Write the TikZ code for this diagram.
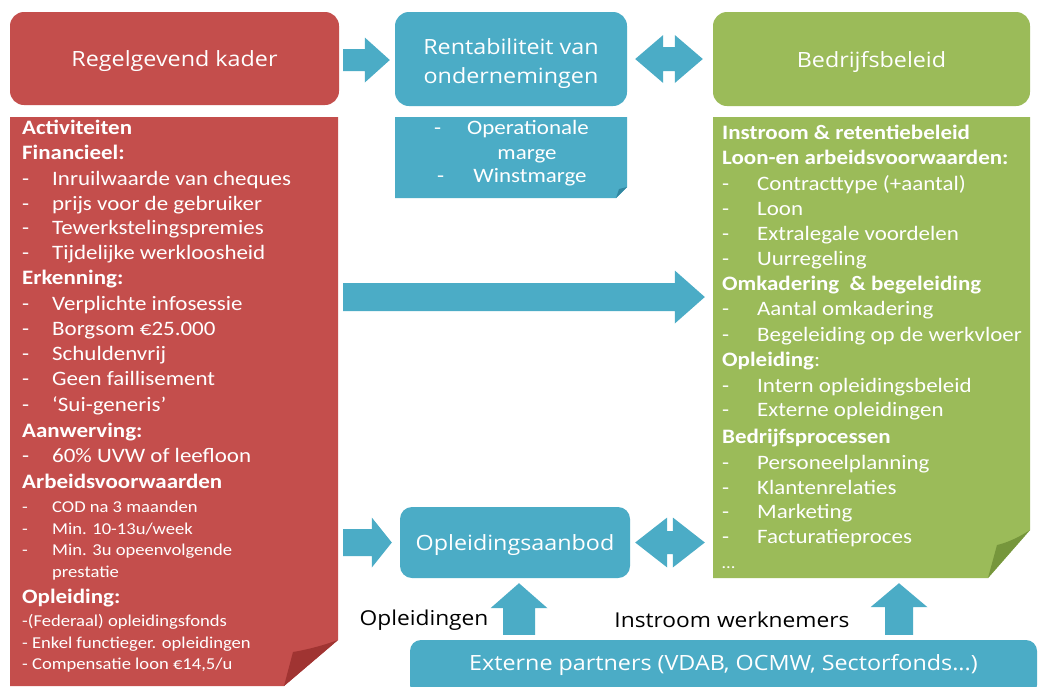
\documentclass[tikz,border=0pt]{standalone}
\usepackage{fontspec}
\setmainfont{Carlito}[FakeStretch=1.12]
\newfontfamily\headfont{Open Sans}[FakeStretch=1.11]
\usetikzlibrary{calc}

\definecolor{redc}{RGB}{196,78,76}
\definecolor{redfold}{RGB}{160,52,50}
\definecolor{bluec}{RGB}{75,172,198}
\definecolor{bluefold}{RGB}{50,135,160}
\definecolor{greenc}{RGB}{155,187,89}
\definecolor{greenfold}{RGB}{118,150,60}

% dash + indented list entry
\newcommand\ditem[2]{\makebox[#1][l]{-}#2}
\newcommand\sm{\fontsize{16.6}{20}\selectfont}

% horizontal block arrow: start, tip, shaft half width, head half width, head length
\newcommand\blockarrowH[5]{%
  \fill[bluec] let \p1=#1, \p2=#2 in
    (\x1,\y1+#3) -- (\x2-#5,\y1+#3) -- (\x2-#5,\y1+#4) -- (\x2,\y1)
    -- (\x2-#5,\y1-#4) -- (\x2-#5,\y1-#3) -- (\x1,\y1-#3) -- cycle;}
% horizontal double block arrow
\newcommand\blockarrowD[5]{%
  \fill[bluec] let \p1=#1, \p2=#2 in
    (\x1,\y1) -- (\x1+#5,\y1+#4) -- (\x1+#5,\y1+#3) -- (\x2-#5,\y1+#3)
    -- (\x2-#5,\y1+#4) -- (\x2,\y1) -- (\x2-#5,\y1-#4) -- (\x2-#5,\y1-#3)
    -- (\x1+#5,\y1-#3) -- (\x1+#5,\y1-#4) -- cycle;}
% upward block arrow: bottom, tip, shaft half width, head half width, head length
\newcommand\blockarrowU[5]{%
  \fill[bluec] let \p1=#1, \p2=#2 in
    (\x1-#3,\y1) -- (\x1-#3,\y2-#5) -- (\x1-#4,\y2-#5) -- (\x1,\y2)
    -- (\x1+#4,\y2-#5) -- (\x1+#3,\y2-#5) -- (\x1+#3,\y1) -- cycle;}

\begin{document}
\begin{tikzpicture}[x=1pt,y=-1pt,
  hdr/.style={rounded corners=14pt, inner sep=0pt},
  htext/.style={inner sep=0pt, text=white, align=center,
    font=\headfont\fontsize{21}{29}\selectfont},
  frame/.style={inner sep=0pt, draw=none},
  item/.style={anchor=base west, inner sep=0pt, text=white,
    font=\fontsize{20.5}{24}\selectfont},
  citem/.style={anchor=base, inner sep=0pt, text=white,
    font=\fontsize{20.5}{24}\selectfont},
  lbl/.style={inner sep=0pt, text=black, font=\headfont\fontsize{20.5}{24}\selectfont}]

\clip (0,0) rectangle (1041,686);
\fill[white] (0,0) rectangle (1041,686);

% header boxes
\node[hdr, fill=redc, minimum width=329, minimum height=93] (regel) at (174.5,58.5) {};
\node[hdr, fill=bluec, minimum width=232, minimum height=94] (rent) at (511,59) {};
\node[hdr, fill=greenc, minimum width=317, minimum height=94] (beleid) at (871.5,59) {};
\node[hdr, fill=bluec, rounded corners=12pt, minimum width=230, minimum height=71] (opl) at (515,542.5) {};
\node[hdr, fill=bluec, rounded corners=11pt, minimum width=627, minimum height=56] (ext) at (723.5,668) {};

% header texts
\node[htext] (regeltext) at (174.5,61.5) {Regelgevend kader};
\node[htext] (renttext) at (511,64) {Rentabiliteit van\\ondernemingen};
\node[htext] (beleidtext) at (871.5,62) {Bedrijfsbeleid};
\node[htext] (opltext) at (515,545) {Opleidingsaanbod};
\node[htext] (exttext) at (723.5,665) {Externe partners (VDAB, OCMW, Sectorfonds...)};

% body frames
\node[frame, minimum width=328, minimum height=569] (regelbody) at (174,401.5) {};
\node[frame, minimum width=232, minimum height=81] (rentbody) at (511,157.5) {};
\node[frame, minimum width=317, minimum height=463] (greenbody) at (871.5,348.5) {};

% red note with page curl
\fill[redc] (10,117) -- (338,117) -- (338,640) -- (284,686) -- (10,686) -- cycle;
\fill[redfold] (338,640) .. controls (322,646) and (305,650) .. (293,652) -- (284,686) -- cycle;
% blue note with folded corner
\fill[bluec] (395,117) -- (627,117) -- (627,187) -- (616,198) -- (395,198) -- cycle;
\fill[bluefold] (627,187) -- (619,189) -- (616,198) -- cycle;
% green note with page curl
\fill[greenc] (713,117) -- (1030,117) -- (1030,530) -- (988,578) -- (713,578) -- cycle;
\fill[greenfold] (1030,530) .. controls (1018,538) and (1006,543) .. (997,545) -- (988,578) -- cycle;

% red list
\foreach \yy/\txt [count=\i] in {
  134/{\textbf{Activiteiten}},
  159/{\textbf{Financieel:}},
  185/{\ditem{30pt}{Inruilwaarde van cheques}},
  210/{\ditem{30pt}{prijs voor de gebruiker}},
  234/{\ditem{30pt}{Tewerkstelingspremies}},
  259/{\ditem{30pt}{Tijdelijke werkloosheid}},
  284/{\textbf{Erkenning:}},
  310/{\ditem{30pt}{Verplichte infosessie}},
  335/{\ditem{30pt}{Borgsom €25.000}},
  360/{\ditem{30pt}{Schuldenvrij}},
  385/{\ditem{30pt}{Geen faillisement}},
  411/{\ditem{30pt}{‘Sui-generis’}},
  437/{\textbf{Aanwerving:}},
  462/{\ditem{30pt}{60\% UVW of leefloon}},
  488/{\textbf{Arbeidsvoorwaarden}},
  512/{\sm\ditem{30pt}{COD na 3 maanden}},
  534/{\sm\ditem{30pt}{Min. 10-13u/week}},
  555/{\sm\ditem{30pt}{Min. 3u opeenvolgende}},
  577/{\sm\hspace*{30pt}prestatie},
  603/{\textbf{Opleiding:}},
  626/{\sm -(Federaal) opleidingsfonds},
  648/{\sm - Enkel functieger. opleidingen},
  669/{\sm - Compensatie loon €14,5/u}}
  \node[item] (rl\i) at (22,\yy) {\txt};

% green list
\foreach \yy/\txt [count=\i] in {
  139/{\textbf{Instroom \& retentiebeleid}},
  164/{\textbf{Loon-en arbeidsvoorwaarden:}},
  190/{\ditem{35pt}{Contracttype (+aantal)}},
  215/{\ditem{35pt}{Loon}},
  240/{\ditem{35pt}{Extralegale voordelen}},
  265/{\ditem{35pt}{Uurregeling}},
  290/{\textbf{Omkadering\ \ \& begeleiding}},
  315/{\ditem{35pt}{Aantal omkadering}},
  341/{\ditem{35pt}{Begeleiding op de werkvloer}},
  366/{\textbf{Opleiding}:},
  392/{\ditem{35pt}{Intern opleidingsbeleid}},
  416/{\ditem{35pt}{Externe opleidingen}},
  443/{\textbf{Bedrijfsprocessen}},
  469/{\ditem{35pt}{Personeelplanning}},
  494/{\ditem{35pt}{Klantenrelaties}},
  518/{\ditem{35pt}{Marketing}},
  543/{\ditem{35pt}{Facturatieproces}},
  568/{\sm …}}
  \node[item] (gl\i) at (722,\yy) {\txt};

% blue list
\node[item] (bd1) at (434,134) {-};
\node[citem] (bl1) at (528,134) {Operationale};
\node[citem] (bl2) at (527,159) {marge};
\node[item] (bd2) at (437,182) {-};
\node[citem] (bl3) at (530,182) {Winstmarge};

% free labels
\node[lbl] (lopl) at (424,620) {Opleidingen};
\node[lbl] (linstr) at (732,620) {Instroom werknemers};

% flows
\coordinate (midrow) at (0,297);
\blockarrowH{($(regel.east)+(4pt,-1.5pt)$)}{($(rent.west)+(-5pt,0pt)$)}{11pt}{22.5pt}{25pt}
\blockarrowD{($(rent.east)+(8pt,0pt)$)}{($(beleid.west)+(-10pt,0pt)$)}{12pt}{24pt}{28pt}
\blockarrowH{($(regelbody.east |- midrow)+(5pt,0pt)$)}{($(greenbody.west |- midrow)+(-8pt,0pt)$)}{14pt}{26.5pt}{30pt}
\blockarrowH{($(regelbody.east |- opl.west)+(5pt,0pt)$)}{($(opl.west)+(-8pt,0pt)$)}{13.5pt}{25pt}{20pt}
\blockarrowD{($(opl.east)+(5pt,0pt)$)}{($(greenbody.west |- opl.east)+(-8pt,0pt)$)}{11.5pt}{25pt}{32pt}
\blockarrowU{($(ext.north -| opl.south)+(4pt,5pt)$)}{($(opl.south)+(4pt,-5pt)$)}{16pt}{28.5pt}{25pt}
\blockarrowU{($(ext.north -| greenbody.south)+(27.5pt,5pt)$)}{($(greenbody.south)+(27.5pt,-3pt)$)}{14pt}{28.5pt}{24pt}
\end{tikzpicture}
\end{document}
